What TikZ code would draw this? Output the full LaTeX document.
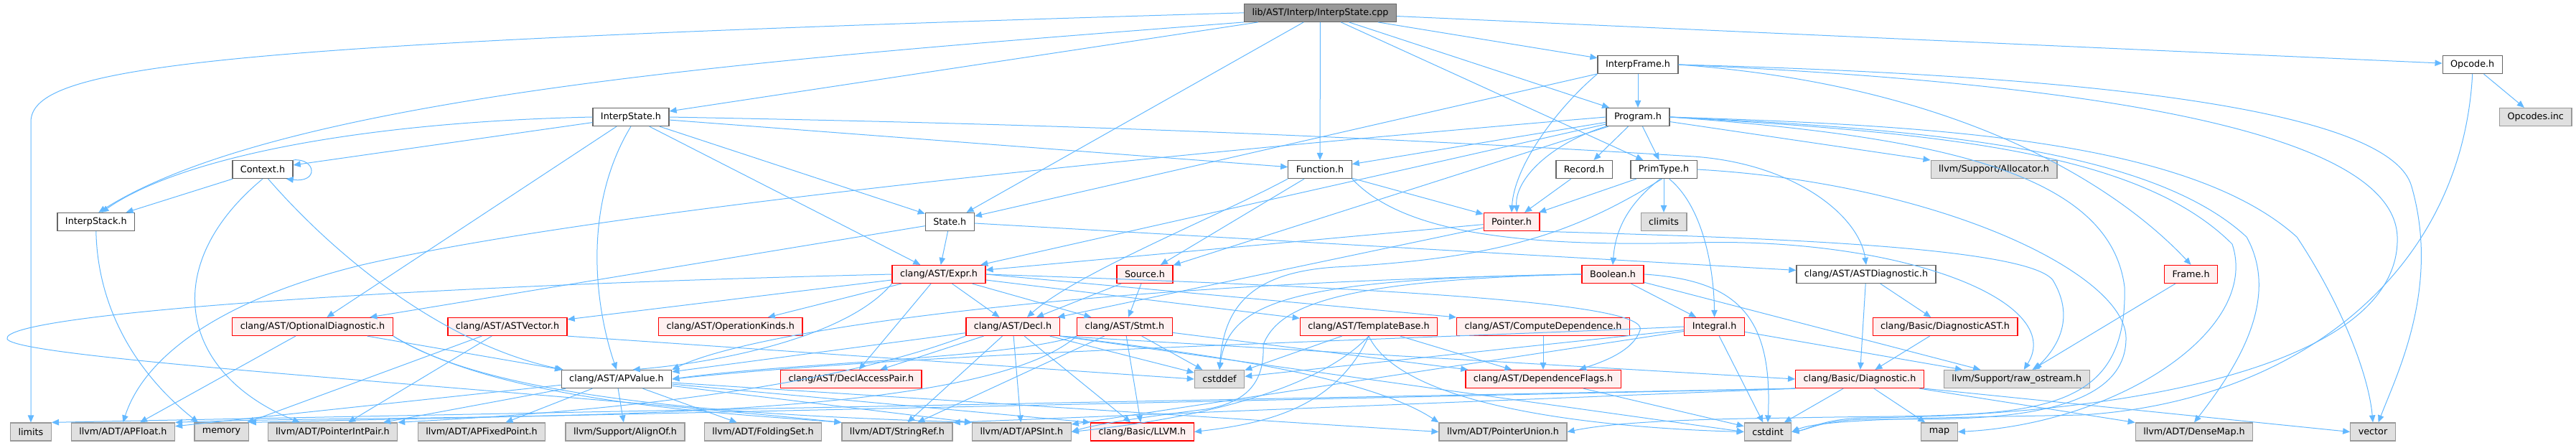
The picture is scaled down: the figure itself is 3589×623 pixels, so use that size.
\documentclass[tikz,border=0pt]{standalone}
\usepackage{fontspec}
\setmainfont{DejaVu Sans}
\usepackage{tikz}
\usetikzlibrary{arrows.meta}
\definecolor{depBlue}{HTML}{63B8FF}
\definecolor{hdrEdge}{HTML}{666666}
\definecolor{sysFill}{HTML}{E0E0E0}
\definecolor{sysEdge}{HTML}{999999}
\definecolor{redFill}{HTML}{FFF0F0}
\definecolor{rootFill}{HTML}{999999}
\tikzset{
  hdr/.style={draw=hdrEdge,fill=white,line width=0.025cm,inner xsep=0.22cm,
    inner ysep=0pt,minimum height=0.5cm,font=\fontsize{7.27}{8}\selectfont},
  redhdr/.style={hdr,draw=red,fill=redFill},
  syshdr/.style={hdr,draw=sysEdge,fill=sysFill},
  roothdr/.style={hdr,fill=rootFill},
  dep/.style={-{Triangle[length=0.2cm,width=0.17cm]},draw=depBlue,line width=0.02cm}
}
\begin{document}
\begin{tikzpicture}[x=0.02cm,y=-0.02cm]
  \useasboundingbox (0,0) rectangle (3589,623);

  \node[roothdr] (cpp) at (1839.5,17.8) {lib/AST/Interp/InterpState.cpp};
  \node[hdr] (interpframe) at (2282,90) {InterpFrame.h};
  \node[hdr] (opcode) at (3444.7,90) {Opcode.h};
  \node[hdr] (interpstate) at (879,163) {InterpState.h};
  \node[hdr] (program) at (2282,163) {Program.h};
  \node[syshdr] (opcodes) at (3532.7,163) {Opcodes.inc};
  \node[hdr] (context) at (366,236) {Context.h};
  \node[hdr] (function) at (1839,236) {Function.h};
  \node[hdr] (record) at (2207,236) {Record.h};
  \node[hdr] (primtype) at (2318,236) {PrimType.h};
  \node[syshdr] (allocator) at (2778,236) {llvm/Support/Allocator.h};
  \node[hdr] (interpstack) at (133.8,309) {InterpStack.h};
  \node[hdr] (state) at (1323.3,309) {State.h};
  \node[redhdr] (pointer) at (2106,309) {Pointer.h};
  \node[syshdr] (climits) at (2318,309) {climits};
  \node[redhdr] (expr) at (1308,382) {clang/AST/Expr.h};
  \node[redhdr] (source) at (1595,382) {Source.h};
  \node[redhdr] (boolean) at (2247,382) {Boolean.h};
  \node[hdr] (astdiag) at (2600,382) {clang/AST/ASTDiagnostic.h};
  \node[redhdr] (frame) at (3052.6,382) {Frame.h};
  \node[redhdr] (optdiag) at (435.5,455) {clang/AST/OptionalDiagnostic.h};
  \node[redhdr] (astvector) at (707,455) {clang/AST/ASTVector.h};
  \node[redhdr] (opkinds) at (1017.7,455) {clang/AST/OperationKinds.h};
  \node[redhdr] (decl) at (1411,455) {clang/AST/Decl.h};
  \node[redhdr] (stmt) at (1567,455) {clang/AST/Stmt.h};
  \node[redhdr] (templatebase) at (1907,455) {clang/AST/TemplateBase.h};
  \node[redhdr] (computedep) at (2150,455) {clang/AST/ComputeDependence.h};
  \node[redhdr] (integral) at (2388.6,455) {Integral.h};
  \node[redhdr] (diagast) at (2710,455) {clang/Basic/DiagnosticAST.h};
  \node[hdr] (apvalue) at (859,528) {clang/AST/APValue.h};
  \node[redhdr] (declaccess) at (1185.8,528) {clang/AST/DeclAccessPair.h};
  \node[syshdr] (cstddef) at (1699,528) {cstddef};
  \node[redhdr] (depflags) at (2150,528) {clang/AST/DependenceFlags.h};
  \node[redhdr] (diagnostic) at (2591,528) {clang/Basic/Diagnostic.h};
  \node[syshdr] (rawostream) at (2809.7,528) {llvm/Support/raw\_ostream.h};
  \node[syshdr] (limits) at (43,601.5) {limits};
  \node[syshdr] (apfloat) at (171.4,601.5) {llvm/ADT/APFloat.h};
  \node[syshdr] (memory) at (308.6,601.5) {memory};
  \node[syshdr] (pointerintpair) at (463.4,601.5) {llvm/ADT/PointerIntPair.h};
  \node[syshdr] (apfixedpoint) at (671,601.5) {llvm/ADT/APFixedPoint.h};
  \node[syshdr] (alignof) at (871,601.5) {llvm/Support/AlignOf.h};
  \node[syshdr] (foldingset) at (1063,601.5) {llvm/ADT/FoldingSet.h};
  \node[syshdr] (stringref) at (1250,601.5) {llvm/ADT/StringRef.h};
  \node[syshdr] (apsint) at (1423.4,601.5) {llvm/ADT/APSInt.h};
  \node[redhdr] (llvmh) at (1591.4,601.5) {clang/Basic/LLVM.h};
  \node[syshdr] (pointerunion) at (2094,601.5) {llvm/ADT/PointerUnion.h};
  \node[syshdr] (cstdint) at (2463,601.5) {cstdint};
  \node[syshdr] (map) at (2702,601.5) {map};
  \node[syshdr] (densemap) at (3057,601.5) {llvm/ADT/DenseMap.h};
  \node[syshdr] (vector) at (3306,601.5) {vector};

  \draw[dep] (cpp.west) .. controls (300,60) and (43,90) .. (43,170) -- (limits.north);
  \draw[dep] (cpp.south west) .. controls (1100,80) and (400,130) .. (interpstack.75);
  \draw[dep] (cpp) -- (interpstate);
  \draw[dep] (cpp) -- (state);
  \draw[dep] (cpp) -- (function);
  \draw[dep] (cpp) -- (interpframe);
  \draw[dep] (cpp) -- (program);
  \draw[dep] (cpp) -- (primtype);
  \draw[dep] (cpp) -- (opcode);

  \draw[dep] (interpstate.west) .. controls (500,170) and (250,220) .. (interpstack.60);
  \draw[dep] (interpstate) -- (context);
  \draw[dep] (interpstate) -- (optdiag);
  \draw[dep] (interpstate.south) .. controls (810,290) and (830,430) .. (apvalue.north);
  \draw[dep] (interpstate) -- (expr);
  \draw[dep] (interpstate) -- (state);
  \draw[dep] (interpstate) -- (function);
  \draw[dep] (interpstate.east) .. controls (1300,170) and (1740,180) .. (2360,218)
    .. controls (2500,228) and (2590,300) .. (astdiag.north);

  \draw[dep] (context.north east) .. controls (440,220) and (445,255) .. ([xshift=-0.2cm]context.south east);
  \draw[dep] (context) -- (interpstack);
  \draw[dep] (context.south) .. controls (220,370) and (250,520) .. (pointerintpair.164);
  \draw[dep] (context.300) .. controls (470,360) and (620,480) .. (apvalue.170);
  \draw[dep] (interpstack.south) .. controls (136,430) and (190,520) .. (memory.158);

  \draw[dep] (interpframe) -- (program);
  \draw[dep] (interpframe.south west) .. controls (2170,150) and (2110,230) .. (pointer.north);
  \draw[dep] (interpframe) -- (state);
  \draw[dep] (interpframe.east) .. controls (2750,120) and (2960,270) .. (frame.north);
  \draw[dep] (interpframe.east) .. controls (2900,105) and (3330,150) .. (3360,260)
    .. controls (3400,400) and (3340,520) .. (vector.60);
  \draw[dep] (interpframe.east) .. controls (2900,115) and (3335,180) .. (3340,330)
    .. controls (3345,500) and (3000,578) .. (2600,582) .. controls (2540,583) and (2520,598) .. (cstdint.east);

  \draw[dep] (opcode) -- (opcodes);
  \draw[dep] (opcode.south) .. controls (3430,380) and (3200,560) .. (2900,578)
    .. controls (2700,582) and (2540,583) .. (cstdint.east);

  \draw[dep] (program) -- (function);
  \draw[dep] (program.south west) .. controls (2160,200) and (2110,250) .. ([xshift=0.15cm]pointer.north);
  \draw[dep] (program) -- (record);
  \draw[dep] (program) -- (primtype);
  \draw[dep] (program) -- (source);
  \draw[dep] (program) -- (allocator);
  \draw[dep] (program) -- (expr);
  \draw[dep] (program.west) .. controls (1500,225) and (800,300) .. (500,370)
    .. controls (300,420) and (200,500) .. (apfloat.north);
  \draw[dep] (program.east) .. controls (2700,175) and (3050,195) .. (3200,330)
    .. controls (3260,420) and (3300,520) .. (vector.north);
  \draw[dep] (program.east) .. controls (2700,180) and (3000,210) .. (3130,330)
    .. controls (3180,420) and (3110,520) .. (densemap.north);
  \draw[dep] (program.east) .. controls (2700,185) and (2980,210) .. (3110,340)
    .. controls (3150,460) and (2950,590) .. (map.east);
  \draw[dep] (program.east) .. controls (2700,190) and (2940,240) .. (2960,400)
    .. controls (2965,600) and (2800,575) .. (2500,582) .. controls (2300,584) and (2230,592) .. (pointerunion.east);

  \draw[dep] (function) -- (pointer);
  \draw[dep] (function) -- (source);
  \draw[dep] (function.south west) .. controls (1700,300) and (1500,380) .. ([xshift=0.4cm]decl.north);
  \draw[dep] (function.south east) .. controls (1950,320) and (2100,345) .. (2360,338)
    .. controls (2650,330) and (2880,420) .. ([xshift=0.2cm]rawostream.north);

  \draw[dep] (pointer) -- (expr);
  \draw[dep] (pointer) -- (decl);
  \draw[dep] (pointer.south east) .. controls (2400,330) and (2820,340) .. (2860,390)
    .. controls (2890,440) and (2870,480) .. ([xshift=0.5cm]rawostream.north);
  \draw[dep] (record) -- (pointer);

  \draw[dep] (primtype) -- (pointer);
  \draw[dep] (primtype) -- (climits);
  \draw[dep] (primtype.250) .. controls (2260,290) and (2250,330) .. (boolean.north);
  \draw[dep] (primtype.300) .. controls (2375,290) and (2388,380) .. (integral.north);
  \draw[dep] (primtype.260) .. controls (2200,320) and (2100,360) .. (1860,372)
    .. controls (1740,380) and (1705,430) .. (cstddef.north);
  \draw[dep] (primtype.east) .. controls (2700,255) and (2960,380) .. (2962,470)
    .. controls (2964,600) and (2700,582) .. (2600,584) .. controls (2540,585) and (2520,598) .. (cstdint.east);

  \draw[dep] (boolean) -- (integral);
  \draw[dep] (boolean.west) .. controls (1500,395) and (1050,460) .. (apvalue.north east);
  \draw[dep] (boolean.west) .. controls (1850,390) and (1780,430) .. (1760,480)
    .. controls (1762,530) and (1740,560) .. (1680,570) .. controls (1600,580) and (1530,590) .. (apsint.east);
  \draw[dep] (boolean.west) .. controls (1800,388) and (1712,420) .. (cstddef.north);
  \draw[dep] (boolean) -- (rawostream);
  \draw[dep] (boolean.east) .. controls (2420,390) and (2470,440) .. (cstdint.north);

  \draw[dep] (integral) -- (cstdint);
  \draw[dep] (integral) -- (cstddef);
  \draw[dep] (integral) -- (rawostream);
  \draw[dep] (integral) -- (apsint);
  \draw[dep] (integral.west) .. controls (1900,475) and (1300,490) .. (apvalue.east);

  \draw[dep] (astdiag) -- (diagnostic);
  \draw[dep] (astdiag) -- (diagast);
  \draw[dep] (diagast) -- (diagnostic);
  \draw[dep] (frame) -- (rawostream);

  \draw[dep] (diagnostic) -- (cstdint);
  \draw[dep] (diagnostic) -- (map);
  \draw[dep] (diagnostic) -- (densemap);
  \draw[dep] (diagnostic.south east) -- (vector.west);
  \draw[dep] (diagnostic.south west) -- (limits.north east);
  \draw[dep] (diagnostic.south west) -- (memory.north east);
  \draw[dep] (diagnostic.south west) -- (stringref.north east);

  \draw[dep] (state) -- (expr);
  \draw[dep] (state) -- (optdiag);
  \draw[dep] (state) -- (astdiag);
  \draw[dep] (source) -- (decl);
  \draw[dep] (source) -- (stmt);

  \draw[dep] (expr) -- (decl);
  \draw[dep] (expr) -- (stmt);
  \draw[dep] (expr) -- (templatebase);
  \draw[dep] (expr.east) -- (computedep.north west);
  \draw[dep] (expr.east) .. controls (1900,400) and (2300,420) .. (2285,460)
    .. controls (2275,490) and (2230,505) .. ([xshift=1cm]depflags.north);
  \draw[dep] (expr) -- (declaccess);
  \draw[dep] (expr) -- (opkinds);
  \draw[dep] (expr) -- (astvector);
  \draw[dep] (expr.south west) .. controls (1180,470) and (1000,505) .. (apvalue.30);
  \draw[dep] (expr.west) .. controls (500,400) and (0,440) .. (10,472)
    .. controls (20,500) and (700,540) .. (stringref.north west);

  \draw[dep] (decl) -- (apvalue);
  \draw[dep] (decl) -- (declaccess);
  \draw[dep] (decl) -- (cstddef);
  \draw[dep] (decl.south east) -- (diagnostic.west);
  \draw[dep] (decl) -- (llvmh);
  \draw[dep] (decl) -- (apsint);
  \draw[dep] (decl) -- (stringref);
  \draw[dep] (decl.south east) -- (cstdint.west);
  \draw[dep] (decl.south west) .. controls (1100,560) and (700,580) .. (pointerintpair.north east);
  \draw[dep] (decl.south east) .. controls (1650,490) and (1900,520) .. (pointerunion.north west);

  \draw[dep] (stmt.south west) .. controls (1400,500) and (1100,505) .. (apvalue.east);
  \draw[dep] (stmt) -- (llvmh);
  \draw[dep] (stmt) -- (stringref);
  \draw[dep] (stmt) -- (cstddef);
  \draw[dep] (stmt) -- (depflags);
  \draw[dep] (stmt.south west) .. controls (1350,600) and (600,575) .. (apfloat.north east);

  \draw[dep] (templatebase) -- (depflags);
  \draw[dep] (templatebase) -- (cstddef);
  \draw[dep] (templatebase.south) .. controls (1820,560) and (1600,590) .. (apsint.east);
  \draw[dep] (templatebase.south) .. controls (1860,570) and (1760,590) .. (llvmh.east);
  \draw[dep] (templatebase.south) .. controls (1960,580) and (2300,598) .. (cstdint.west);
  \draw[dep] (computedep) -- (depflags);
  \draw[dep] (depflags) -- (cstdint);

  \draw[dep] (apvalue) -- (apfixedpoint);
  \draw[dep] (apvalue) -- (alignof);
  \draw[dep] (apvalue) -- (foldingset);
  \draw[dep] (apvalue) -- (pointerintpair);
  \draw[dep] (apvalue) -- (apfloat);
  \draw[dep] (apvalue) -- (llvmh.north west);
  \draw[dep] (apvalue) -- (apsint.north west);
  \draw[dep] (apvalue) -- (pointerunion.west);

  \draw[dep] (optdiag) -- (apvalue);
  \draw[dep] (optdiag) -- (apfloat);
  \draw[dep] (optdiag.south east) .. controls (700,560) and (1000,575) .. (stringref.north west);
  \draw[dep] (optdiag.south east) .. controls (700,565) and (1100,580) .. (apsint.north west);

  \draw[dep] (astvector) -- (memory);
  \draw[dep] (astvector) -- (pointerintpair);
  \draw[dep] (astvector.south east) -- (cstddef.west);
\end{tikzpicture}
\end{document}
